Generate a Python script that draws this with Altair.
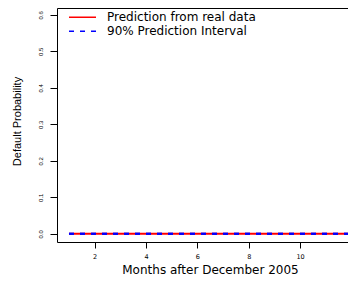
import altair as alt
import pandas as pd

months = [1, 2, 3, 4, 5, 6, 7, 8, 9, 10, 11, 12]
prediction = [0.0, 0.0, 0.0, 0.0, 0.0, 0.0, 0.0, 0.0, 0.0, 0.0, 0.0, 0.0]
lower = [0.0, 0.0, 0.0, 0.0, 0.0, 0.0, 0.0, 0.0, 0.0, 0.0, 0.0, 0.0]
upper = [0.0, 0.0, 0.0, 0.0, 0.0, 0.0, 0.0, 0.0, 0.0, 0.0, 0.0, 0.0]

series_names = ["Prediction from real data", "90% Prediction Interval"]
series_colors = ["#ff0000", "#0000ff"]
y_ticks = [0.0, 0.1, 0.2, 0.3, 0.4, 0.5, 0.6]
x_ticks = [2, 4, 6, 8, 10, 12]

rows = []
for m, p, lo, up in zip(months, prediction, lower, upper):
    rows.append({"month": m, "value": p, "series": series_names[0], "line": "pred"})
    rows.append({"month": m, "value": lo, "series": series_names[1], "line": "lower"})
    rows.append({"month": m, "value": up, "series": series_names[1], "line": "upper"})
df = pd.DataFrame(rows)

x = alt.X(
    "month:Q",
    scale=alt.Scale(domain=[0.533, 11.904], nice=False, zero=False),
    axis=alt.Axis(
        values=x_ticks, title="Months after December 2005", domain=False,
        tickSize=6, tickColor="black", labelColor="black",
        labelFont="DejaVu Sans", labelFontSize=6.5, labelPadding=5,
        labelBaseline="top", grid=False,
        titleFont="DejaVu Sans", titleFontSize=12, titleFontWeight="normal",
        titleColor="black", titleX=153, titleY=31, titleAlign="center",
        titleBaseline="alphabetic",
    ),
)
y = alt.Y(
    "value:Q",
    scale=alt.Scale(domain=[-0.0227, 0.6184], nice=False, zero=False),
    axis=alt.Axis(
        values=y_ticks, format=".1f", title="Default Probability", domain=False,
        tickSize=7, tickColor="black", labelColor="black",
        labelFont="Liberation Sans", labelFontSize=6, labelAngle=270,
        labelAlign="center", labelBaseline="alphabetic", labelPadding=7.3,
        grid=False,
        titleFont="Liberation Sans", titleFontSize=11, titleFontWeight="normal",
        titleColor="black", titleAngle=270, titleX=-37, titleY=113,
        titleAlign="center", titleBaseline="alphabetic",
    ),
)
color = alt.Color(
    "series:N",
    scale=alt.Scale(domain=series_names, range=series_colors),
    legend=alt.Legend(title=None),
)
dash = alt.StrokeDash(
    "series:N",
    scale=alt.Scale(domain=series_names, range=[[1, 0], [5, 6]]),
    legend=alt.Legend(title=None),
)

base = alt.Chart(df)
red = base.transform_filter(alt.datum.line == "pred").mark_line(strokeWidth=2).encode(
    x=x, y=y, color=color, strokeDash=dash, detail="line:N"
)
blue = base.transform_filter(alt.datum.line != "pred").mark_line(strokeWidth=2).encode(
    x=x, y=y, color=color, strokeDash=dash, detail="line:N"
)

chart = (
    alt.layer(red, blue)
    .properties(
        width=292, height=234,
        autosize=alt.AutoSizeParams(type="none"),
        padding={"left": 49, "top": 0, "right": -1, "bottom": 34},
    )
    .configure_view(stroke="black", strokeWidth=1)
    .configure_legend(
        orient="none", legendX=11, legendY=2.6, padding=0,
        symbolType="stroke", symbolSize=729, symbolStrokeWidth=1.5,
        labelFont="DejaVu Sans", labelFontSize=12, labelColor="black",
        labelOffset=10, rowPadding=0, clipHeight=13.4, labelLimit=400,
    )
)

chart.save("out.html", embed_options={"renderer": "svg", "actions": False})
